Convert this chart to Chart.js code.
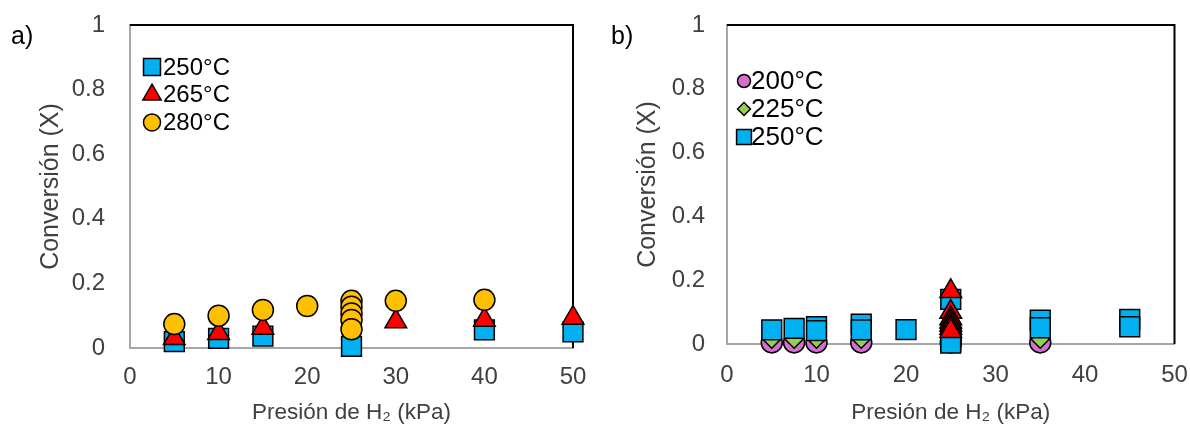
<!DOCTYPE html>
<html>
<head>
<meta charset="utf-8">
<script src="https://cdn.jsdelivr.net/npm/chart.js@4/dist/chart.umd.min.js"></script>
<style>
  body { margin: 0; background: #fff; width: 1190px; height: 434px; position: relative; overflow: hidden; font-family: "Liberation Sans", Arial, sans-serif; }
  .panel { position: absolute; top: 0; height: 434px; }
  #wrapA { left: 0; width: 595px; }
  #wrapB { left: 600px; width: 590px; }
  .tag { position: absolute; top: 21px; font-size: 25px; color: #000; }
</style>
</head>
<body>
<div class="panel" id="wrapA"><canvas id="chartA" width="595" height="434"></canvas></div>
<div class="panel" id="wrapB"><canvas id="chartB" width="590" height="434"></canvas></div>
<div class="tag" style="left:11px">a)</div>
<div class="tag" style="left:611px">b)</div>

<script>
// panel a) pressure (kPa) vs conversion
const a250x = [5, 10, 15, 25, 40, 50];
const a250y = [0.02, 0.03, 0.037, 0.005, 0.056, 0.05];
const a265x = [5, 10, 15, 30, 40, 50];
const a265y = [0.03, 0.046, 0.062, 0.082, 0.087, 0.093];
const a280x = [5, 10, 15, 20, 25, 25, 25, 25, 25, 30, 40];
const a280y = [0.074, 0.1, 0.118, 0.13, 0.146, 0.128, 0.107, 0.087, 0.058, 0.146, 0.149];

// panel b)
const b200x = [5, 7.5, 10, 15, 25, 35];
const b200y = [0.005, 0.005, 0.005, 0.005, 0.005, 0.005];
const b225x = [5, 7.5, 10, 15, 25, 35];
const b225y = [0.015, 0.015, 0.015, 0.015, 0.015, 0.015];
const b250x = [5, 7.5, 10, 10, 15, 15, 20, 25, 25, 25, 25, 35, 35, 45, 45];
const b250y = [0.044, 0.049, 0.054, 0.042, 0.062, 0.044, 0.045, 0.14, 0.02, 0.01, 0.003, 0.075, 0.051, 0.077, 0.054];
const b265x = [25, 25, 25, 25, 25, 25, 25];
const b265y = [0.165, 0.1, 0.08, 0.07, 0.06, 0.05, 0.04];

const xTicks = [0, 10, 20, 30, 40, 50];
const yTicks = [0, 0.2, 0.4, 0.6, 0.8, 1];

const FONT = "'Liberation Sans', Arial, sans-serif";
const TEXT = "#404040";

function pts(xs, ys) {
  return xs.map((x, i) => ({ x: x, y: ys[i] }));
}

// order: lower number is drawn on top
function series(label, xs, ys, style, color, r, legendR, order) {
  return {
    label: label,
    data: pts(xs, ys),
    pointStyle: style,
    pointRadius: r,
    pointHoverRadius: r,
    pointBackgroundColor: color,
    backgroundColor: color,
    pointBorderColor: "#000",
    pointBorderWidth: 1.5,
    legendRadius: legendR,
    order: order,
    clip: false,
  };
}

// top + right black frame lines
const framePlugin = {
  id: "frame",
  beforeDatasetsDraw(chart) {
    const { ctx, chartArea: a } = chart;
    ctx.save();
    ctx.strokeStyle = "#000";
    ctx.lineWidth = 2;
    ctx.beginPath();
    ctx.moveTo(a.left, a.top);
    ctx.lineTo(a.right, a.top);
    ctx.lineTo(a.right, a.bottom);
    ctx.stroke();
    ctx.restore();
  },
};

// legend drawn inside the plot, top-left
const insetLegend = {
  id: "insetLegend",
  afterDatasetsDraw(chart, args, opts) {
    const { ctx, chartArea } = chart;
    ctx.save();
    ctx.font = opts.fontSize + "px " + FONT;
    ctx.textBaseline = "middle";
    let y = chartArea.top + opts.top;
    chart.data.datasets.forEach((ds) => {
      if (!ds.label) return;
      ctx.fillStyle = ds.backgroundColor;
      ctx.strokeStyle = "#000";
      ctx.lineWidth = 1.5;
      Chart.helpers.drawPoint(ctx, { pointStyle: ds.pointStyle, radius: ds.legendRadius, borderWidth: 1.5 }, chartArea.left + opts.markerX, y);
      ctx.fillStyle = "#000";
      ctx.fillText(ds.label, chartArea.left + opts.textX, y + 1);
      y += opts.step;
    });
    ctx.restore();
  },
};

function makeChart(id, datasets, cfg) {
  return new Chart(document.getElementById(id), {
    type: "scatter",
    data: { datasets: datasets },
    options: {
      responsive: false,
      animation: false,
      layout: { padding: { top: 25, right: cfg.right, left: 0, bottom: 0 } },
      plugins: {
        legend: { display: false },
        tooltip: { enabled: false },
        insetLegend: cfg.legend,
      },
      scales: {
        x: {
          type: "linear",
          min: 0,
          max: 50,
          afterBuildTicks: (s) => { s.ticks = xTicks.map((v) => ({ value: v })); },
          ticks: { padding: cfg.xPad, color: TEXT, font: { size: 24, family: FONT }, callback: (v) => String(v) },
          grid: { display: false, drawTicks: false },
          border: { color: "#a6a6a6", width: 2 },
          title: {
            display: true,
            text: "Presión de H₂ (kPa)",
            color: TEXT,
            font: { size: 22.5, family: FONT },
            padding: { bottom: 8 },
          },
          afterFit: (s) => {
            s.height = cfg.xHeight;
            s.paddingLeft = 0;
            s.paddingRight = 0;
          },
        },
        y: {
          min: 0,
          max: 1,
          afterBuildTicks: (s) => { s.ticks = yTicks.map((v) => ({ value: v })); },
          ticks: { padding: cfg.yPad, color: TEXT, font: { size: 24, family: FONT }, callback: (v) => String(v) },
          grid: { display: false, drawTicks: false },
          border: { color: "#a6a6a6", width: 2 },
          title: {
            display: true,
            text: "Conversión (X)",
            color: TEXT,
            font: { size: 25, family: FONT },
            padding: { top: cfg.titleX },
          },
          afterFit: (s) => {
            s.width = cfg.yWidth;
            s.paddingTop = 0;
            s.paddingBottom = 0;
          },
        },
      },
    },
    plugins: [framePlugin, insetLegend],
  });
}

makeChart(
  "chartA",
  [
    series("250°C", a250x, a250y, "rect", "#00b0f0", 14, 12, 3),
    series("265°C", a265x, a265y, "triangle", "#ff0000", 12.5, 10.5, 2),
    series("280°C", a280x, a280y, "circle", "#ffc000", 10.5, 8.5, 1),
  ],
  {
    right: 22, xHeight: 86, yWidth: 130, xPad: 15, yPad: 25, titleX: 36,
    legend: { top: 42, markerX: 22, textX: 33, step: 27.7, fontSize: 24 },
  }
);

makeChart(
  "chartB",
  [
    series("200°C", b200x, b200y, "circle", "#d36fcf", 10.5, 6.5, 4),
    series("225°C", b225x, b225y, "rectRot", "#92d050", 9, 6.5, 3),
    series("250°C", b250x, b250y, "rect", "#00b0f0", 14, 10.5, 2),
    series("", b265x, b265y, "triangle", "#ff0000", 12.5, 0, 1),
  ],
  {
    right: 15, xHeight: 90, yWidth: 127, xPad: 17, yPad: 22, titleX: 33,
    legend: { top: 56, markerX: 17, textX: 24, step: 28, fontSize: 26 },
  }
);
</script>
</body>
</html>
